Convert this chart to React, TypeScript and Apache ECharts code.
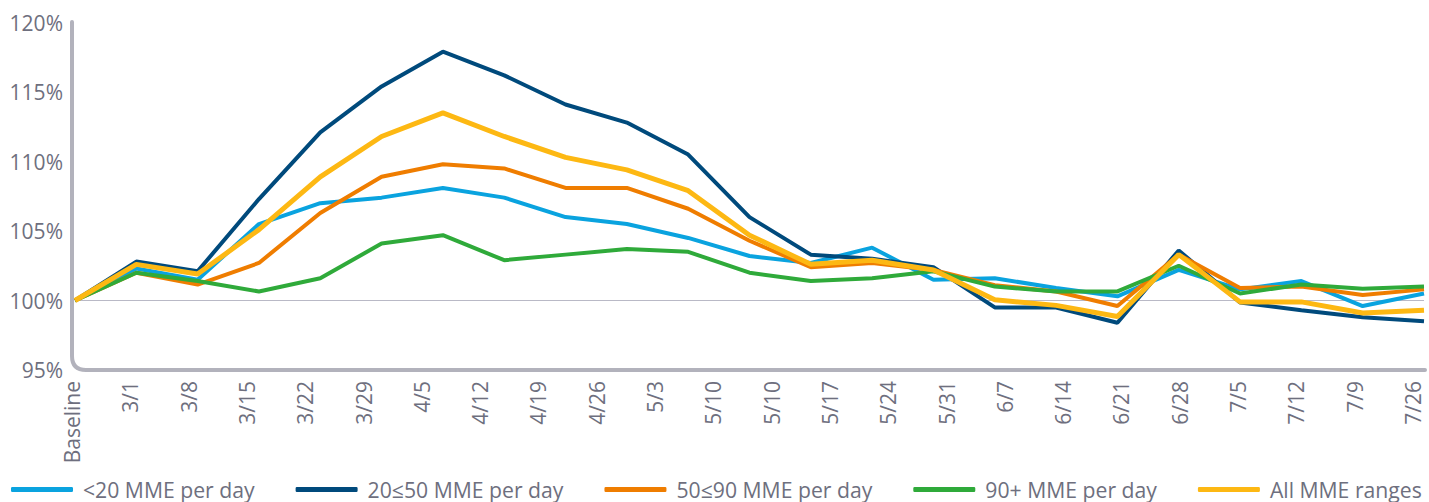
import React, { useEffect, useRef } from "react";
import * as echarts from "echarts";

const tickLabels = [
  "Baseline", "3/1", "3/8", "3/15", "3/22", "3/29", "4/5", "4/12", "4/19", "4/26",
  "5/3", "5/10", "5/10", "5/17", "5/24", "5/31", "6/7", "6/14", "6/21", "6/28",
  "7/5", "7/12", "7/9", "7/26",
];

// 23 weekly observations (data points are spaced independently of the tick labels)
const pointIndex = Array.from({ length: 23 }, (_, i) => `p${i}`);

const under20 = [100, 102.3, 101.5, 105.5, 107.0, 107.4, 108.1, 107.4, 106.0, 105.5, 104.5, 103.2, 102.7, 103.8, 101.5, 101.6, 100.9, 100.3, 102.2, 100.8, 101.4, 99.6, 100.5];
const from20to50 = [100, 102.8, 102.1, 107.3, 112.1, 115.4, 117.9, 116.2, 114.1, 112.8, 110.5, 106.0, 103.3, 103.0, 102.4, 99.5, 99.5, 98.4, 103.6, 99.85, 99.3, 98.8, 98.5];
const from50to90 = [100, 102.0, 101.15, 102.7, 106.3, 108.9, 109.8, 109.5, 108.1, 108.1, 106.6, 104.3, 102.4, 102.7, 102.2, 101.1, 100.65, 99.6, 103.3, 100.9, 101.0, 100.4, 100.8];
const over90 = [100, 102.0, 101.4, 100.65, 101.6, 104.1, 104.7, 102.9, 103.3, 103.7, 103.5, 102.0, 101.4, 101.6, 102.1, 101.0, 100.65, 100.65, 102.5, 100.5, 101.15, 100.85, 101.0];
const allRanges = [100, 102.6, 101.9, 105.1, 108.9, 111.8, 113.5, 111.8, 110.3, 109.4, 107.9, 104.7, 102.6, 102.9, 102.2, 100.05, 99.65, 98.85, 103.3, 99.9, 99.9, 99.1, 99.3];

const seriesNames = ["<20 MME per day", "20≤50 MME per day", "50≤90 MME per day", "90+ MME per day", "All MME ranges"];
const seriesColors = ["#0aa3df", "#004a7c", "#ef7d00", "#2faa3a", "#fdb813"];
const seriesData = [under20, from20to50, from50to90, over90, allRanges];

const FONT = "'Open Sans', 'Noto Sans', sans-serif";
const TEXT = "#6e6f7e";
const AXIS = "#b2b2bc";

echarts.graphic.registerShape(
  "axisFrame",
  echarts.graphic.extendPath("M72,22 L72,356 Q72,370 86,370 L1425,370", {})
);

export default function App() {
  const ref = useRef<HTMLDivElement>(null);

  useEffect(() => {
    if (!ref.current) return;
    const chart = echarts.init(ref.current, null, { renderer: "svg" });
    chart.setOption({
      animation: false,
      textStyle: { fontFamily: FONT },
      grid: [
        { left: 75, right: 5, top: 22.5, bottom: 132 },
        { left: 72, right: 16, top: 22.5, bottom: 132 },
      ],
      xAxis: [
        {
          type: "category",
          gridIndex: 0,
          data: pointIndex,
          boundaryGap: false,
          show: false,
        },
        {
          type: "category",
          gridIndex: 1,
          data: tickLabels,
          boundaryGap: false,
          axisLine: { show: false },
          axisTick: { show: false },
          splitLine: { show: false },
          axisLabel: {
            rotate: 90,
            interval: 0,
            margin: 11,
            fontSize: 21,
            color: TEXT,
            fontFamily: FONT,
          },
        },
      ],
      yAxis: [
        {
          type: "value",
          gridIndex: 0,
          min: 95,
          max: 120,
          interval: 5,
          axisLine: { show: false },
          axisTick: { show: false },
          splitLine: { show: false },
          axisLabel: {
            formatter: "{value}%",
            margin: 12,
            fontSize: 21,
            color: TEXT,
            fontFamily: FONT,
          },
        },
        {
          type: "value",
          gridIndex: 1,
          min: 95,
          max: 120,
          show: false,
        },
      ],
      legend: {
        left: 11,
        top: 479,
        width: 1418,
        padding: 0,
        itemWidth: 62,
        itemHeight: 5,
        itemGap: 41,
        icon: "roundRect",
        textStyle: { fontSize: 21.2, color: TEXT, fontFamily: FONT, padding: [0, 0, 0, 5] },
        data: seriesNames,
      },
      graphic: [
        {
          type: "axisFrame",
          x: 0,
          y: 0,
          silent: true,
          z: 1,
          style: { stroke: AXIS, lineWidth: 4, fill: "none", lineCap: "round", lineJoin: "round" },
        },
      ],
      series: seriesData.map((d, i) => ({
        name: seriesNames[i],
        type: "line",
        xAxisIndex: 0,
        yAxisIndex: 0,
        data: d,
        symbol: "none",
        color: seriesColors[i],
        lineStyle: { width: i === 4 ? 5 : 4, color: seriesColors[i] },
        z: 3 + i,
        markLine:
          i === 0
            ? {
                silent: true,
                symbol: "none",
                label: { show: false },
                lineStyle: { color: "#b9b9c6", width: 1, type: "solid" },
                data: [{ yAxis: 100 }],
                z: 2,
              }
            : undefined,
      })),
    });
    return () => chart.dispose();
  }, []);

  return (
    <div
      ref={ref}
      style={{ position: "absolute", left: 0, top: 0, width: 1429, height: 502 }}
    />
  );
}
